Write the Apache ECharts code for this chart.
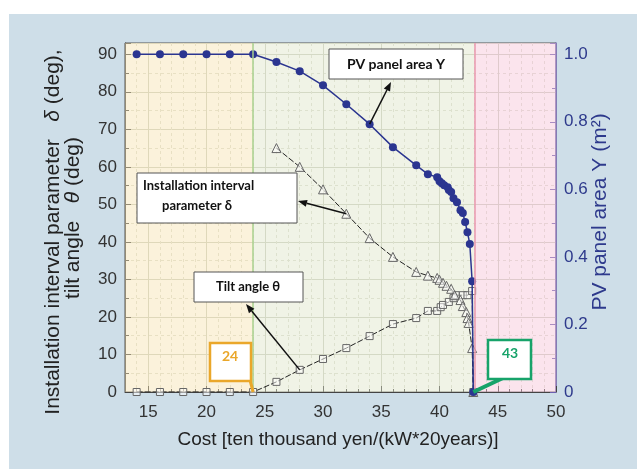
<!DOCTYPE html>
<html>
<head>
<meta charset="utf-8">
<script src="https://cdn.jsdelivr.net/npm/echarts@6/dist/echarts.min.js"></script>
<style>
  html, body { margin: 0; padding: 0; background: #fff; }
  #panel { position: absolute; left: 9px; top: 14px; width: 628px; height: 455px; background: #cedee8; }
  #chart { position: absolute; left: 0; top: 0; width: 637px; height: 469px; }
</style>
</head>
<body>
<div id="panel"></div>
<div id="chart"></div>
<script>
// PV panel area Y (right axis, m^2)
const pvCost = [14, 16, 18, 20, 22, 24, 26, 28, 30, 32, 34, 36, 38, 39, 39.8, 40, 40.2, 40.4, 40.7, 40.8, 41, 41.2, 41.5, 41.8, 42, 42.2, 42.4, 42.6, 42.8, 42.9];
const pvArea = [1, 1, 1, 1, 1, 1, 0.977, 0.95, 0.908, 0.852, 0.793, 0.725, 0.671, 0.645, 0.636, 0.624, 0.618, 0.612, 0.606, 0.598, 0.592, 0.574, 0.562, 0.538, 0.53, 0.503, 0.473, 0.438, 0.328, 0];

// installation interval parameter delta (deg)
const deltaCost = [26, 28, 30, 32, 34, 36, 38, 39, 39.8, 40, 40.3, 40.6, 41, 41.3, 41.8, 42, 42.3, 42.4, 42.5, 42.8, 42.9];
const deltaDeg = [65, 60, 54, 47.5, 41, 36, 32, 31, 30.4, 29.9, 29.1, 28.3, 27.5, 25.8, 24.5, 22.9, 21.3, 19.7, 18.4, 11.7, 0];

// tilt angle theta (deg)
const thetaCost = [14, 16, 18, 20, 22, 24, 26, 28, 30, 32, 34, 36, 38, 39, 39.8, 40.1, 40.3, 40.8, 41.2, 41.4, 42, 42.4, 42.8, 42.9];
const thetaDeg = [0, 0, 0, 0, 0, 0, 2.7, 5.9, 8.8, 11.7, 14.9, 18.1, 19.7, 21.6, 21.6, 22.6, 23.2, 24, 25, 25.8, 25.8, 25.8, 26.9, 0];

// cost bands and thresholds
const bandEdges = [13, 24, 43, 50];
const bandColors = ['rgba(246,226,176,0.45)', 'rgba(222,228,200,0.45)', 'rgba(246,196,214,0.45)'];
const thresholds = [24, 43];

const FONT = "'Liberation Sans', Arial, sans-serif";
const NARROW = "'Liberation Sans Narrow', Lato, sans-serif";
const NAVY = '#2e3a8c';

const zip = ( xs, ys ) => xs.map( ( x, i ) => [x, ys[i]] );

const chart = echarts.init( document.getElementById( 'chart' ) );

const option = {
  animation: false,
  backgroundColor: 'transparent',
  grid: {
    left: 125, right: 81, top: 43, bottom: 77,
    show: true, backgroundColor: '#fff', borderColor: '#555', borderWidth: 1
  },
  xAxis: {
    type: 'value', min: 13, max: 50, splitNumber: 7,
    axisLine: { lineStyle: { color: '#444' } },
    axisTick: { inside: true, length: 6, lineStyle: { color: '#444' } },
    minorTick: { show: true, splitNumber: 5, length: 3, lineStyle: { color: '#444' } },
    axisLabel: { showMinLabel: false, color: '#333', fontSize: 17, fontFamily: FONT, margin: 12 },
    splitLine: { lineStyle: { color: '#cdcfc4' } },
    minorSplitLine: { show: true, lineStyle: { color: '#dcded4', type: [3, 3] } }
  },
  yAxis: [
    {
      type: 'value', min: 0, max: 93, interval: 10,
      axisLine: { show: true, lineStyle: { color: '#444' } },
      axisTick: { show: true, inside: true, length: 6, lineStyle: { color: '#444' } },
      minorTick: { show: true, splitNumber: 2, length: 4, lineStyle: { color: '#444' } },
      axisLabel: { showMaxLabel: false, color: '#333', fontSize: 17, fontFamily: FONT, margin: 8 },
      splitLine: { lineStyle: { color: '#cdcfc4' } },
      minorSplitLine: { show: true, lineStyle: { color: '#dcded4', type: [3, 3] } }
    },
    {
      type: 'value', min: 0, max: 1.0333, interval: 0.2, position: 'right',
      axisLine: { show: true, lineStyle: { color: '#6b5fb0', width: 1.5 } },
      axisTick: { show: true, inside: true, length: 6, lineStyle: { color: '#6b5fb0' } },
      minorTick: { show: true, splitNumber: 2, length: 4, lineStyle: { color: '#6b5fb0' } },
      axisLabel: {
        showMaxLabel: false, color: NAVY, fontSize: 17, fontFamily: FONT, margin: 8,
        formatter: v => v === 0 ? '0' : v.toFixed( 1 )
      },
      splitLine: { show: false }
    }
  ],
  series: [
    {
      // background bands
      type: 'line', data: [], silent: true, z: 1,
      markArea: {
        silent: true,
        data: bandColors.map( ( c, i ) => [
          { xAxis: bandEdges[i], itemStyle: { color: c } },
          { xAxis: bandEdges[i + 1] }
        ] )
      },
      markLine: {
        silent: true, symbol: 'none', label: { show: false },
        data: [
          { xAxis: thresholds[0], lineStyle: { color: '#a9d18e', width: 1.5, type: 'solid' } },
          { xAxis: thresholds[1], lineStyle: { color: '#e89aae', width: 1.5, type: 'solid' } }
        ]
      }
    },
    {
      name: 'theta', type: 'line', data: zip( thetaCost, thetaDeg ), z: 3,
      symbol: 'rect', symbolSize: 7,
      itemStyle: { color: 'rgba(255,255,255,0.5)', borderColor: '#666', borderWidth: 1 },
      lineStyle: { color: '#222', width: 1, type: [6, 2] }
    },
    {
      name: 'delta', type: 'line', data: zip( deltaCost, deltaDeg ), z: 3,
      symbol: 'triangle', symbolSize: 9,
      itemStyle: { color: 'rgba(255,255,255,0.5)', borderColor: '#666', borderWidth: 1 },
      lineStyle: { color: '#222', width: 1, type: [6, 2] }
    },
    {
      name: 'pv', type: 'line', yAxisIndex: 1, data: zip( pvCost, pvArea ), z: 4,
      symbol: 'circle', symbolSize: 8,
      itemStyle: { color: '#2b3590' },
      lineStyle: { color: '#2b3590', width: 1.5 }
    }
  ]
};

chart.setOption( option );

// annotation helpers
const px = ( x, y, axis ) => chart.convertToPixel( { xAxisIndex: 0, yAxisIndex: axis || 0 }, [x, y] );

function arrow( from, to, color, width ) {
  const dx = to[0] - from[0], dy = to[1] - from[1];
  const len = Math.sqrt( dx * dx + dy * dy );
  const ux = dx / len, uy = dy / len;
  const hl = 9, hw = 3.5;
  const bx = to[0] - ux * hl, by = to[1] - uy * hl;
  return [
    { type: 'line', z: 20, shape: { x1: from[0], y1: from[1], x2: bx, y2: by }, style: { stroke: color, lineWidth: width } },
    { type: 'polygon', z: 20, shape: { points: [to, [bx - uy * hw, by + ux * hw], [bx + uy * hw, by - ux * hw]] }, style: { fill: color } }
  ];
}

function box( x, y, w, h, stroke, lw ) {
  return { type: 'rect', z: 19, shape: { x, y, width: w, height: h }, style: { fill: '#fff', stroke, lineWidth: lw } };
}

function label( x, y, text, opts ) {
  return {
    type: 'text', z: 21, x, y,
    style: Object.assign( { text, fill: '#111', font: 'bold 13px ' + NARROW, align: 'center', verticalAlign: 'middle' }, opts || {} )
  };
}

// rotated axis title with the Greek letter in italics
function vTitle( x, y, parts, color ) {
  return {
    type: 'text', z: 21, x, y, rotation: Math.PI / 2,
    style: {
      text: parts.map( ( p, i ) => '{' + ( i % 2 ? 'g' : 'n' ) + '|' + p + '}' ).join( '' ),
      align: 'center', verticalAlign: 'middle',
      rich: {
        n: { fontFamily: FONT, fontSize: 21, fill: color },
        g: { fontFamily: FONT, fontSize: 21, fontStyle: 'italic', fill: color }
      }
    }
  };
}

const pvPt = px( 34, pvArea[pvCost.indexOf( 34 )], 1 );
const deltaPt = px( 32, deltaDeg[deltaCost.indexOf( 32 )] );
const thetaPt = px( 28, thetaDeg[thetaCost.indexOf( 28 )] );
const lowPt = px( thresholds[0], 0 );
const highPt = px( 42.9, 0 );

const graphics = [
  // PV panel area Y
  box( 329, 49, 134, 30, '#555', 1 ),
  label( 396, 64, 'PV panel area Y', { font: 'bold 14px ' + NARROW } ),
  ...arrow( pvPt, [391, 82], '#111', 1.5 ),

  // delta
  box( 137, 173, 160, 50, '#555', 1 ),
  label( 143, 186, 'Installation interval', { align: 'left' } ),
  label( 162, 206, 'parameter δ', { align: 'left' } ),
  ...arrow( deltaPt, [298, 201], '#111', 1.5 ),

  // theta
  box( 194, 272, 109, 30, '#555', 1 ),
  label( 248, 287, 'Tilt angle θ' ),
  ...arrow( thetaPt, [246, 304], '#111', 1.5 ),

  // 24
  { type: 'line', z: 18, shape: { x1: 250, y1: 380, x2: lowPt[0], y2: lowPt[1] }, style: { stroke: '#eaa72a', lineWidth: 3 } },
  box( 210, 343, 41, 38, '#eaa72a', 2.5 ),
  label( 230, 356, String( thresholds[0] ), { fill: '#eaa72a', font: 'bold 14px ' + NARROW } ),

  // 43
  { type: 'line', z: 18, shape: { x1: 503, y1: 378, x2: highPt[0], y2: highPt[1] }, style: { stroke: '#17a36a', lineWidth: 4 } },
  box( 488, 340, 43, 39, '#17a36a', 2.5 ),
  label( 510, 353, String( thresholds[1] ), { fill: '#17a36a', font: 'bold 14px ' + NARROW } ),

  // axis titles
  vTitle( 53, 232, ['Installation interval parameter   ', 'δ', ' (deg),'], '#222' ),
  vTitle( 73, 218, ['tilt angle   ', 'θ', ' (deg)'], '#222' ),
  vTitle( 600, 212, ['PV panel area Y (m²)'], NAVY ),
  { type: 'text', z: 21, x: 338, y: 440,
    style: { text: 'Cost [ten thousand yen/(kW*20years)]', fill: '#222', font: '19px ' + FONT, align: 'center', verticalAlign: 'middle' } }
];

chart.setOption( { graphic: graphics } );
</script>
</body>
</html>
